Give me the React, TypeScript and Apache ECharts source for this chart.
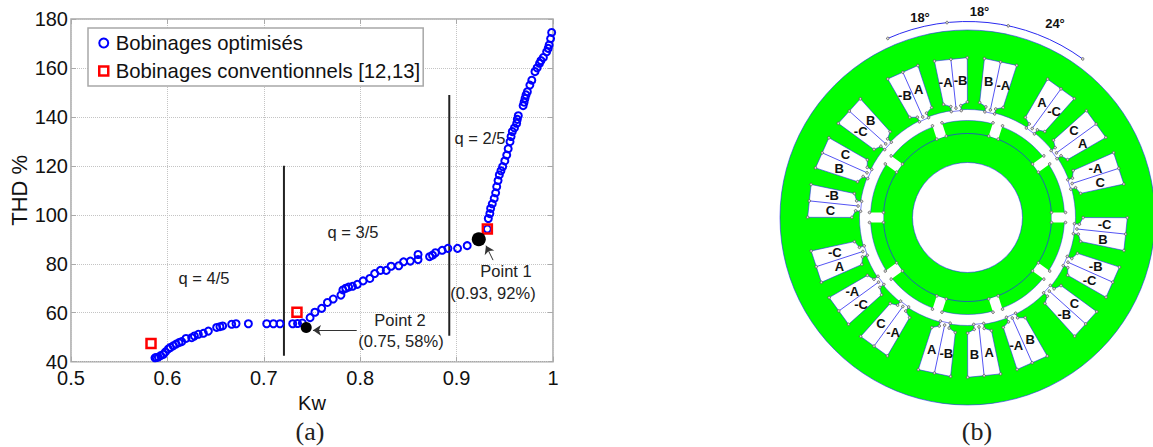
import React, { useEffect, useRef } from "react";
import * as echarts from "echarts";

const xTicks = [0.5, 0.6, 0.7, 0.8, 0.9, 1];
const optimised: number[][] = [
  [0.5871, 41.6], [0.5885, 41.7], [0.5906, 41.9], [0.593, 42.5], [0.5958, 43], [0.598, 44], [0.601, 45.2], [0.603, 45.8], [0.606, 46.5], [0.609, 47.2], [0.612, 47.8], [0.6148, 48.2], [0.6193, 49.5], [0.6252, 49.8], [0.628, 50.5], [0.6321, 51.2], [0.6373, 51.6], [0.6425, 52.5], [0.6511, 54], [0.6545, 54.3], [0.6573, 54.6], [0.6667, 55.3], [0.6712, 55.5], [0.684, 55.5],
  [0.703, 55.5], [0.71, 55.5], [0.7168, 55.5], [0.73, 55.5], [0.735, 55.6], [0.74, 55.8],
  [0.748, 58], [0.753, 60.2], [0.76, 61.8], [0.766, 64.2], [0.772, 65.6], [0.78, 67.2], [0.782, 69.3], [0.785, 70], [0.788, 70.5], [0.792, 70.8], [0.797, 71.6], [0.803, 73], [0.81, 74], [0.815, 76], [0.821, 77.3], [0.827, 77.3], [0.832, 79], [0.84, 79.2], [0.845, 80.8], [0.852, 81.1], [0.86, 81.7], [0.86, 83.8], [0.872, 82.9], [0.875, 83.5], [0.878, 84.5], [0.885, 85.5], [0.891, 86.3], [0.901, 86.3], [0.911, 87.4],
  [0.9319, 94.2], [0.9329, 98.5], [0.9345, 100.5], [0.9353, 102.6], [0.937, 104.5], [0.939, 106.7], [0.9405, 109], [0.9416, 111.5], [0.943, 114], [0.9443, 116.3], [0.946, 118], [0.9478, 119.7], [0.95, 122], [0.952, 124.4], [0.9535, 127], [0.9554, 129.9], [0.9565, 132], [0.9578, 134], [0.96, 135.5], [0.9623, 137.4], [0.963, 139], [0.964, 140.5],
  [0.969, 144.6], [0.97, 146], [0.971, 147.6], [0.972, 149], [0.9734, 150.3], [0.976, 153], [0.978, 155], [0.9813, 158.5], [0.9835, 160], [0.986, 161.9], [0.9875, 163], [0.99, 164.3], [0.9934, 166.6], [0.995, 168], [0.996, 169.4], [0.9975, 172], [0.9986, 174.5],
];
const conventional: number[][] = [[0.583, 47.4], [0.7344, 60.2], [0.9319, 94.2]];
const designPoints: number[][] = [[0.923, 90], [0.744, 54]];
const qLine1: number[][] = [[0.7209, 120], [0.7209, 42.4]];
const qLine2: number[][] = [[0.8924, 149], [0.8924, 50.6]];
const arrow1: number[][] = [[0.9378, 81.5], [0.9305, 87.4]];
const arrow2: number[][] = [[0.7964, 52.8], [0.751, 52.8]];

const slotAngles = [12, 36, 54, 72, 96, 114, 132, 156, 174, 192, 216, 234, 252, 276, 294, 312, 336, 354];
const slotCcwLabels = ["B", "A", "C", "-A", "-C", "-B", "C", "B", "A", "-B", "-A", "-C", "A", "C", "B", "-C", "-B", "-A"];
const slotCwLabels = ["-A", "-C", "A", "C", "B", "-C", "-B", "-A", "B", "A", "C", "-A", "-C", "-B", "C", "B", "A", "-B"];
const notchAngles = [18, 54, 90, 126, 162, 198, 234, 270, 306, 342];
const arcNodeAngles = [-24, -6, 12, 36];
const arcLabels = ["18°", "18°", "24°"];

const CX = 967.5, CY = 217.5;
const BLUE = "#2a2af0", GREEN = "#00ff00", NODE = "#555";
const pol = (deg: number, r: number, off = 0): number[] => {
  const a = (deg * Math.PI) / 180;
  const u = [Math.sin(a), -Math.cos(a)], t = [Math.cos(a), Math.sin(a)];
  return [CX + r * u[0] + off * t[0], CY + r * u[1] + off * t[1]];
};
const node = (p: number[]) => ({ type: "circle", z: 5, shape: { cx: p[0], cy: p[1], r: 1.3 }, style: { fill: "#ddd", stroke: NODE, lineWidth: 0.8 } });
const boldLabel = (text: string, p: number[]) => ({ type: "text", z: 6, style: { text, x: p[0], y: p[1], align: "center", verticalAlign: "middle", font: "bold 13px 'Liberation Sans'", fill: "#111" } });
const note = (text: string, x: number, y: number) => ({ type: "text", z: 8, style: { text, x, y, align: "center", verticalAlign: "middle", font: "16.5px 'Liberation Sans'", fill: "#222" } });

function stator(): any[] {
  const out: any[] = [
    { type: "circle", z: 1, shape: { cx: CX, cy: CY, r: 187.5 }, style: { fill: GREEN, stroke: BLUE, lineWidth: 0.6 } },
    { type: "circle", z: 2, shape: { cx: CX, cy: CY, r: 108 }, style: { fill: "#fff", stroke: BLUE, lineWidth: 0.5 } },
    { type: "circle", z: 3, shape: { cx: CX, cy: CY, r: 97 }, style: { fill: GREEN, stroke: BLUE, lineWidth: 0.5 } },
    { type: "circle", z: 3, shape: { cx: CX, cy: CY, r: 84 }, style: { fill: GREEN, stroke: BLUE, lineWidth: 0.7 } },
    { type: "circle", z: 4, shape: { cx: CX, cy: CY, r: 55 }, style: { fill: "#fff", stroke: BLUE, lineWidth: 0.6 } },
  ];
  notchAngles.forEach((a) => {
    const pts = [pol(a, 84, -5), pol(a, 84, 5), pol(a, 98, 5), pol(a, 98, -5)];
    out.push({ type: "polygon", z: 4, shape: { points: pts }, style: { fill: "#fff" } });
    pts.forEach((p) => out.push(node(p)));
  });
  slotAngles.forEach((a, i) => {
    const pts = [pol(a, 159, -16.5), pol(a, 159, 16.5), pol(a, 115, 12), pol(a, 112, 5), pol(a, 107, 5), pol(a, 107, -5), pol(a, 112, -5), pol(a, 115, -12)];
    out.push({ type: "polygon", z: 4, shape: { points: pts }, style: { fill: "#fff", stroke: BLUE, lineWidth: 0.6 } });
    const d1 = pol(a, 159), d2 = pol(a, 110);
    out.push({ type: "line", z: 5, shape: { x1: d1[0], y1: d1[1], x2: d2[0], y2: d2[1] }, style: { stroke: BLUE, lineWidth: 0.8 } });
    [...pts, d1, d2].forEach((p) => out.push(node(p)));
    out.push(boldLabel(slotCcwLabels[i], pol(a, 137, -7.5)));
    out.push(boldLabel(slotCwLabels[i], pol(a, 137, 7.5)));
  });
  const arcR = 196;
  const toRad = (d: number) => ((d - 90) * Math.PI) / 180;
  out.push({
    type: "arc", z: 5,
    shape: { cx: CX, cy: CY, r: arcR, startAngle: toRad(arcNodeAngles[0]), endAngle: toRad(arcNodeAngles[3]), clockwise: true },
    style: { stroke: BLUE, lineWidth: 1, fill: "none" },
  });
  arcNodeAngles.forEach((a) => out.push(node(pol(a, arcR))));
  out.push(boldLabel(arcLabels[0], [920, 17]));
  out.push(boldLabel(arcLabels[1], [979.5, 11]));
  out.push(boldLabel(arcLabels[2], [1055, 23]));
  return out;
}

export default function App() {
  const ref = useRef<HTMLDivElement>(null);
  useEffect(() => {
    const chart = echarts.init(ref.current!, undefined, { renderer: "svg" });
    const font = "'Liberation Sans'";
    const caption = (text: string, x: number) => ({ type: "text", z: 8, style: { text, x, y: 431, align: "center", verticalAlign: "middle", font: "26px 'Liberation Serif'", fill: "#222" } });
    const vline = (data: number[][]) => ({ type: "line", data, showSymbol: false, silent: true, z: 2, lineStyle: { color: "#222", width: 2 } });
    const axisBase = {
      axisLine: { show: false },
      axisTick: { show: true, inside: true, length: 5, lineStyle: { color: "#aaa", width: 1 } },
    };
    chart.setOption({
      animation: false,
      backgroundColor: "#fff",
      grid: { left: 71, right: 600, top: 19, height: 342.7, show: true, borderColor: "#a8a8a8", borderWidth: 1.5, backgroundColor: "transparent" },
      legend: {
        left: 88, top: 28, orient: "vertical", align: "left",
        padding: [5, 3, 5, 10], itemGap: 8, itemWidth: 14, itemHeight: 9,
        backgroundColor: "#fff", borderColor: "#a8a8a8", borderWidth: 1.5, borderRadius: 0,
        textStyle: { fontFamily: font, fontSize: 20.3, color: "#111" },
        data: [
          { name: "Bobinages optimisés", icon: "circle", itemStyle: { color: "transparent", borderColor: "#0000ff", borderWidth: 2 } },
          { name: "Bobinages conventionnels [12,13]", icon: "path://M0 0H10V10H0Z", itemStyle: { color: "transparent", borderColor: "#ff0000", borderWidth: 2.5 } },
        ],
      },
      xAxis: [
        {
          ...axisBase, type: "value", min: 0.5, max: 1, interval: 0.1,
          name: "Kw", nameLocation: "middle", nameGap: 25,
          nameTextStyle: { fontFamily: font, fontSize: 20, color: "#111" },
          axisLabel: { fontFamily: font, fontSize: 20, color: "#111", margin: 6, formatter: (v: number) => String(xTicks.find((t) => Math.abs(t - v) < 1e-6) ?? v) },
          splitLine: { show: true, lineStyle: { type: "dotted", color: "#c4c4c4", width: 1 } },
        },
        { ...axisBase, type: "value", position: "top", min: 0.5, max: 1, interval: 0.1, axisLabel: { show: false }, splitLine: { show: false } },
      ],
      yAxis: [
        {
          ...axisBase, type: "value", min: 40, max: 180, interval: 20,
          name: "THD %", nameLocation: "middle", nameGap: 40,
          nameTextStyle: { fontFamily: font, fontSize: 22, color: "#111" },
          axisLabel: { fontFamily: font, fontSize: 20, color: "#111", margin: 3 },
          splitLine: { show: true, lineStyle: { type: "dotted", color: "#c4c4c4", width: 1 } },
        },
        { ...axisBase, type: "value", position: "right", min: 40, max: 180, interval: 20, axisLabel: { show: false }, splitLine: { show: false } },
      ],
      series: [
        vline(qLine1),
        vline(qLine2),
        {
          name: "Bobinages optimisés", type: "scatter", data: optimised, symbol: "circle", symbolSize: 7, z: 3,
          itemStyle: { color: "transparent", borderColor: "#0000ff", borderWidth: 2, opacity: 1 },
        },
        {
          name: "Bobinages conventionnels [12,13]", type: "scatter", data: conventional, symbol: "rect", symbolSize: 9, z: 4,
          itemStyle: { color: "transparent", borderColor: "#ff0000", borderWidth: 2.5, opacity: 1 },
        },
        {
          name: "Points", type: "scatter", data: designPoints, symbol: "circle", z: 5,
          symbolSize: (_v: number[], p: any) => (p.dataIndex === 0 ? 14 : 11),
          itemStyle: { color: "#000", opacity: 1 },
          markLine: {
            silent: true, symbol: ["none", "arrow"], symbolSize: 8, label: { show: false },
            lineStyle: { color: "#333", width: 1, type: "solid" },
            data: [arrow1, arrow2].map((a) => [{ coord: a[0] }, { coord: a[1] }]),
          },
        },
      ],
      graphic: [
        note("q = 4/5", 204, 277.7),
        note("q = 3/5", 353, 232),
        note("q = 2/5", 480, 138),
        note("Point 1", 506, 270.7),
        note("(0.93, 92%)", 493, 292.7),
        note("Point 2", 400, 320),
        note("(0.75, 58%)", 401, 341),
        caption("(a)", 310),
        caption("(b)", 977),
        ...stator(),
      ],
    });
    return () => chart.dispose();
  }, []);
  return <div ref={ref} style={{ position: "absolute", left: 0, top: 0, width: 1153, height: 447 }} />;
}
